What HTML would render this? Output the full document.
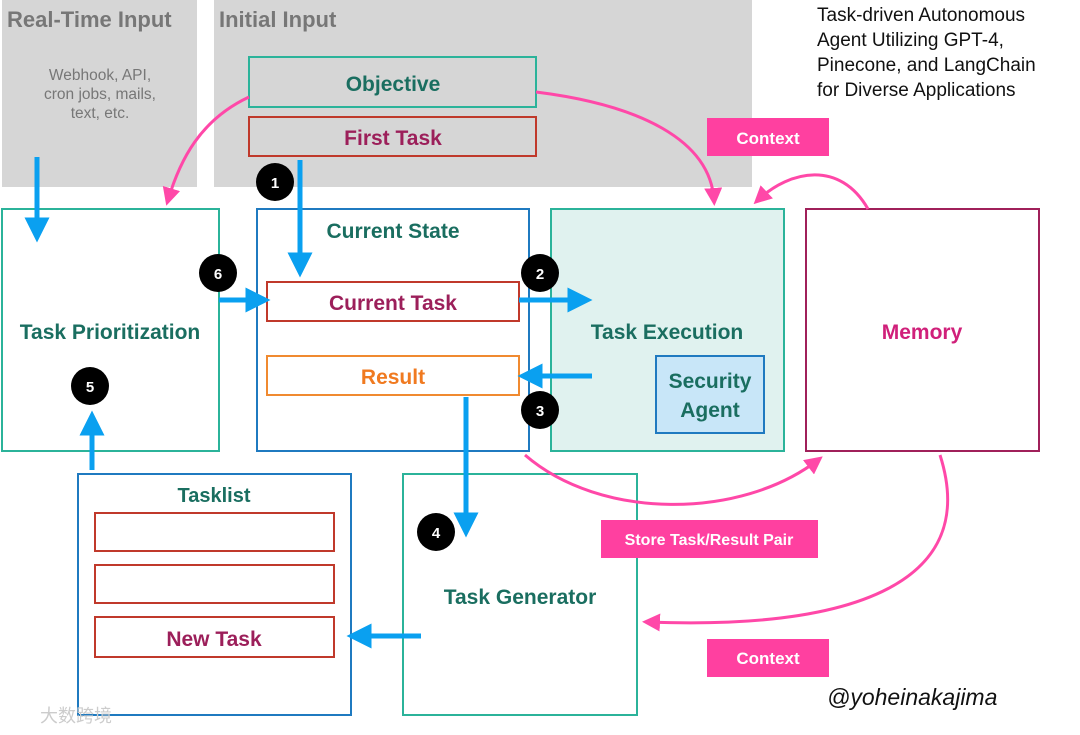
<!DOCTYPE html>
<html><head><meta charset="utf-8"><style>
html,body{margin:0;padding:0;background:#fff;}
svg{display:block;font-family:"Liberation Sans","Noto Sans CJK SC",sans-serif;}
</style></head><body>
<svg width="1080" height="735" viewBox="0 0 1080 735" xmlns="http://www.w3.org/2000/svg">
<defs>
<marker id="bh" markerWidth="5" markerHeight="5" refX="2.5" refY="2.5" orient="auto" markerUnits="strokeWidth"><path d="M0,0 L5,2.5 L0,5 z" fill="#0aa0f0"/></marker>
<marker id="ph" markerWidth="6" markerHeight="6" refX="4" refY="3" orient="auto" markerUnits="strokeWidth"><path d="M0,0 L6,3 L0,6 z" fill="#ff48a8"/></marker>
</defs>
<rect x="2" y="0" width="195" height="187" fill="#d6d6d6"/>
<rect x="214" y="0" width="538" height="187" fill="#d6d6d6"/>
<text x="7" y="27" font-size="22" font-weight="bold" fill="#777">Real-Time Input</text>
<text x="219" y="27" font-size="22" font-weight="bold" fill="#777">Initial Input</text>
<text font-size="15.5" fill="#777" text-anchor="middle"><tspan x="100" y="80">Webhook, API,</tspan><tspan x="100" y="99">cron jobs, mails,</tspan><tspan x="100" y="118">text, etc.</tspan></text>
<text font-size="19" fill="#111"><tspan x="817" y="21">Task-driven Autonomous</tspan><tspan x="817" y="46">Agent Utilizing GPT-4,</tspan><tspan x="817" y="71">Pinecone, and LangChain</tspan><tspan x="817" y="96">for Diverse Applications</tspan></text>

<g font-weight="bold">
<rect x="249" y="57" width="287" height="50" fill="none" stroke="#2bb39a" stroke-width="2"/>
<text x="393" y="91" font-size="21" fill="#1a6e60" text-anchor="middle">Objective</text>
<rect x="249" y="117" width="287" height="39" fill="none" stroke="#c0392b" stroke-width="2"/>
<text x="393" y="145" font-size="21" fill="#9c1f5a" text-anchor="middle">First Task</text>

<rect x="2" y="209" width="217" height="242" fill="none" stroke="#2bb39a" stroke-width="2"/>
<text x="110" y="339" font-size="21" fill="#1a6e60" text-anchor="middle">Task Prioritization</text>
<rect x="257" y="209" width="272" height="242" fill="none" stroke="#1f7ac0" stroke-width="2"/>
<text x="393" y="238" font-size="21" fill="#1a6e60" text-anchor="middle">Current State</text>
<rect x="267" y="282" width="252" height="39" fill="none" stroke="#c0392b" stroke-width="2"/>
<text x="393" y="310" font-size="21" fill="#9c1f5a" text-anchor="middle">Current Task</text>
<rect x="267" y="356" width="252" height="39" fill="none" stroke="#f08a30" stroke-width="2"/>
<text x="393" y="384" font-size="21" fill="#f07a20" text-anchor="middle">Result</text>
<rect x="551" y="209" width="233" height="242" fill="#e0f2ef" stroke="#2bb39a" stroke-width="2"/>
<text x="667" y="339" font-size="21" fill="#1a6e60" text-anchor="middle">Task Execution</text>
<rect x="656" y="356" width="108" height="77" fill="#c8e6f8" stroke="#1f7ac0" stroke-width="2"/>
<text font-size="21" fill="#1a6e60" text-anchor="middle"><tspan x="710" y="388">Security</tspan><tspan x="710" y="417">Agent</tspan></text>
<rect x="806" y="209" width="233" height="242" fill="none" stroke="#a0205a" stroke-width="2"/>
<text x="922" y="339" font-size="21" fill="#d0207a" text-anchor="middle">Memory</text>

<rect x="78" y="474" width="273" height="241" fill="none" stroke="#1f7ac0" stroke-width="2"/>
<text x="214" y="502" font-size="20" fill="#1a6e60" text-anchor="middle">Tasklist</text>
<rect x="95" y="513" width="239" height="38" fill="none" stroke="#c0392b" stroke-width="2"/>
<rect x="95" y="565" width="239" height="38" fill="none" stroke="#c0392b" stroke-width="2"/>
<rect x="95" y="617" width="239" height="40" fill="none" stroke="#c0392b" stroke-width="2"/>
<text x="214" y="646" font-size="21" fill="#9c1f5a" text-anchor="middle">New Task</text>
<rect x="403" y="474" width="234" height="241" fill="none" stroke="#2bb39a" stroke-width="2"/>
<text x="520" y="604" font-size="21" fill="#1a6e60" text-anchor="middle">Task Generator</text>
</g>

<g fill="none" stroke="#ff48a8" stroke-width="3">
<path d="M249,97 C200,120 180,160 168,200" marker-end="url(#ph)"/>
<path d="M536,92 C640,105 710,140 714,200" marker-end="url(#ph)"/>
<path d="M868,209 C840,160 790,170 758,200" marker-end="url(#ph)"/>
<path d="M525,455 C600,520 740,520 818,460" marker-end="url(#ph)"/>
<path d="M940,455 C980,580 860,630 648,622" marker-end="url(#ph)"/>
</g>
<g font-weight="bold" fill="#fff" text-anchor="middle">
<rect x="707" y="118" width="122" height="38" fill="#ff40a0"/>
<text x="768" y="144" font-size="17">Context</text>
<rect x="601" y="520" width="217" height="38" fill="#ff40a0"/>
<text x="709" y="545" font-size="16">Store Task/Result Pair</text>
<rect x="707" y="639" width="122" height="38" fill="#ff40a0"/>
<text x="768" y="664" font-size="17">Context</text>
</g>

<g fill="none" stroke="#0aa0f0" stroke-width="5">
<path d="M37,157 L37,230" marker-end="url(#bh)"/>
<path d="M300,160 L300,265" marker-end="url(#bh)"/>
<path d="M219,300 L258,300" marker-end="url(#bh)"/>
<path d="M519,300 L580,300" marker-end="url(#bh)"/>
<path d="M592,376 L530,376" marker-end="url(#bh)"/>
<path d="M466,397 L466,525" marker-end="url(#bh)"/>
<path d="M421,636 L359,636" marker-end="url(#bh)"/>
<path d="M92,470 L92,423" marker-end="url(#bh)"/>
</g>

<g font-size="15" font-weight="bold" fill="#fff" text-anchor="middle">
<circle cx="275" cy="182" r="19" fill="#000"/><text x="275" y="188">1</text>
<circle cx="218" cy="273" r="19" fill="#000"/><text x="218" y="279">6</text>
<circle cx="540" cy="273" r="19" fill="#000"/><text x="540" y="279">2</text>
<circle cx="540" cy="410" r="19" fill="#000"/><text x="540" y="416">3</text>
<circle cx="90" cy="386" r="19" fill="#000"/><text x="90" y="392">5</text>
<circle cx="436" cy="532" r="19" fill="#000"/><text x="436" y="538">4</text>
</g>
<text x="827" y="705" font-size="23" font-style="italic" fill="#111">@yoheinakajima</text>
<text x="40" y="722" font-size="18" fill="#ccc">大数跨境</text>
</svg>
</body></html>
